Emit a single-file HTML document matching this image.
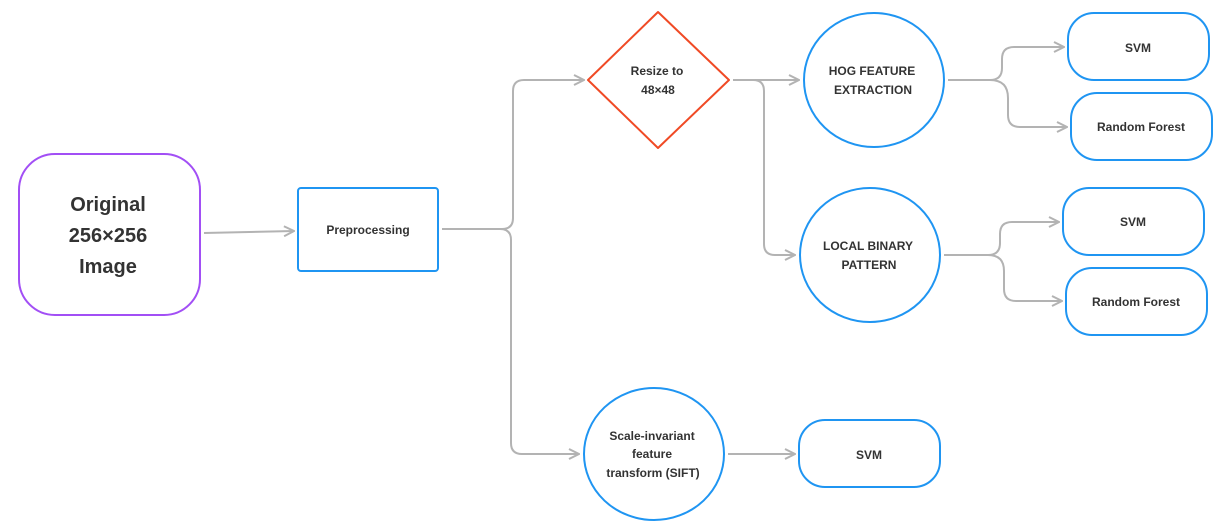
<!DOCTYPE html>
<html><head><meta charset="utf-8"><style>
html,body{margin:0;padding:0;background:#fff;}
svg{display:block;}
text{font-family:"Liberation Sans",sans-serif;font-weight:bold;fill:#333;text-anchor:middle;}
</style></head><body>
<svg width="1222" height="523" viewBox="0 0 1222 523" xmlns="http://www.w3.org/2000/svg">
<defs>
<marker id="a" viewBox="0 0 12 12" refX="11" refY="6" markerWidth="12" markerHeight="12" markerUnits="userSpaceOnUse" orient="auto">
<path d="M1,1 L11,6 L1,11" fill="none" stroke="#b3b3b3" stroke-width="2"/>
</marker>
</defs>
<g fill="none" stroke="#b3b3b3" stroke-width="2" marker-end="url(#a)">
<path d="M204,233 L294,231"/>
<path d="M442,229 L502,229 Q513,229 513,218 L513,91 Q513,80 524,80 L584,80"/>
<path d="M442,229 L500,229 Q511,229 511,240 L511,443 Q511,454 522,454 L579,454"/>
<path d="M733,80 L799,80"/>
<path d="M733,80 L753,80 Q764,80 764,91 L764,244 Q764,255 775,255 L795,255"/>
<path d="M948,80 L990,80 Q1002,80 1002,68 L1002,59 Q1002,47 1014,47 L1064,47"/>
<path d="M948,80 L990,80 Q1008,80 1008,98 L1008,115 Q1008,127 1020,127 L1067,127"/>
<path d="M944,255 L988,255 Q1000,255 1000,243 L1000,234 Q1000,222 1012,222 L1059,222"/>
<path d="M944,255 L988,255 Q1004,255 1004,271 L1004,289 Q1004,301 1016,301 L1062,301"/>
<path d="M728,454 L795,454"/>
</g>
<rect x="19" y="154" width="181" height="161" rx="36" fill="#fff" stroke="#a24ff5" stroke-width="2"/>
<rect x="298" y="188" width="140" height="83" rx="3" fill="#fff" stroke="#1f95f2" stroke-width="2"/>
<path d="M658,12 L729,80 L658,148 L588,80 Z" fill="#fff" stroke="#f04a25" stroke-width="2" stroke-linejoin="round"/>
<ellipse cx="874" cy="80" rx="70" ry="67" fill="#fff" stroke="#1f95f2" stroke-width="2"/>
<ellipse cx="870" cy="255" rx="70" ry="67" fill="#fff" stroke="#1f95f2" stroke-width="2"/>
<ellipse cx="654" cy="454" rx="70" ry="66" fill="#fff" stroke="#1f95f2" stroke-width="2"/>
<rect x="1068" y="13" width="141" height="67" rx="26" fill="#fff" stroke="#1f95f2" stroke-width="2"/>
<rect x="1071" y="93" width="141" height="67" rx="26" fill="#fff" stroke="#1f95f2" stroke-width="2"/>
<rect x="1063" y="188" width="141" height="67" rx="26" fill="#fff" stroke="#1f95f2" stroke-width="2"/>
<rect x="1066" y="268" width="141" height="67" rx="26" fill="#fff" stroke="#1f95f2" stroke-width="2"/>
<rect x="799" y="420" width="141" height="67" rx="26" fill="#fff" stroke="#1f95f2" stroke-width="2"/>
<g font-size="20">
<text x="108" y="211">Original</text>
<text x="108" y="242">256×256</text>
<text x="108" y="273">Image</text>
</g>
<g font-size="12">
<text x="368" y="234">Preprocessing</text>
<text x="657" y="75">Resize to</text>
<text x="658" y="94">48×48</text>
<text x="872" y="75">HOG FEATURE</text>
<text x="873" y="94">EXTRACTION</text>
<text x="868" y="250">LOCAL BINARY</text>
<text x="869" y="269">PATTERN</text>
<text x="652" y="440">Scale-invariant</text>
<text x="652" y="458">feature</text>
<text x="653" y="477">transform (SIFT)</text>
<text x="1138" y="52">SVM</text>
<text x="1141" y="131">Random Forest</text>
<text x="1133" y="226">SVM</text>
<text x="1136" y="306">Random Forest</text>
<text x="869" y="459">SVM</text>
</g>
</svg>
</body></html>
